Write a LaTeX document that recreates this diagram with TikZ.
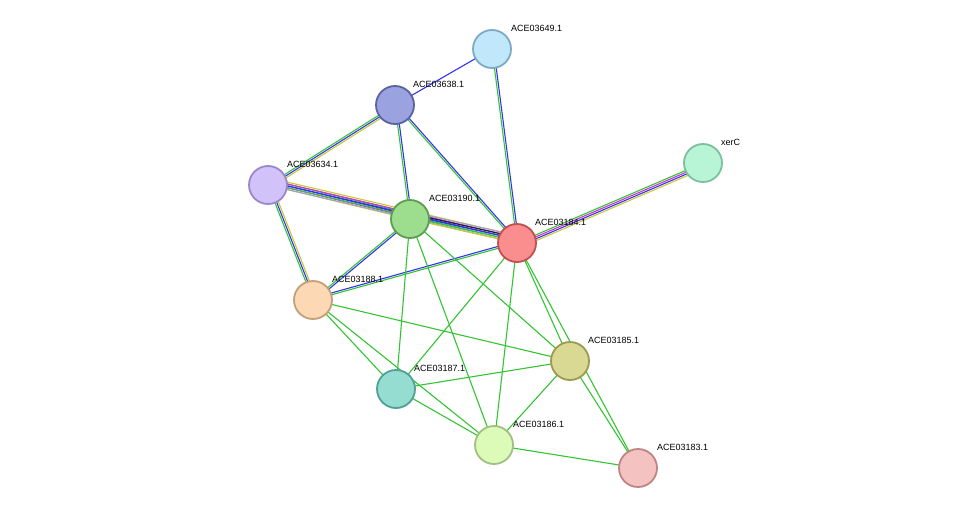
\documentclass[tikz,border=0pt]{standalone}
\usepackage{fontspec}
\setmainfont{Liberation Sans}
\usetikzlibrary{calc}
\definecolor{eg}{HTML}{33C433}
\definecolor{eb}{HTML}{3333EE}
\definecolor{ey}{HTML}{C8C832}
\definecolor{em}{HTML}{CC33CC}
\definecolor{ek}{HTML}{222222}
\definecolor{ea}{HTML}{A0A0D8}
\tikzset{
 prot/.style={circle,minimum size=38pt,inner sep=0pt,line width=1.8pt},
 lab/.style={anchor=west,font=\fontsize{9}{10}\selectfont,inner sep=0pt},
 edge/.style={line width=1.1pt}
}
\newcommand{\medge}[3]{%
 \foreach \c [count=\i] in {#3}{%
  \pgfmathsetmacro{\o}{(\i-1)*1.8}%
  \draw[edge,\c] ($(#1)!\o pt!90:(#2)$) -- ($(#2)!\o pt!-90:(#1)$);}}
\begin{document}
\begin{tikzpicture}[x=1pt,y=-1pt]
\useasboundingbox (0,0) rectangle (976,514);
\coordinate (p49) at (492,49);
\coordinate (p38) at (395,105);
\coordinate (pxc) at (703,163);
\coordinate (p34) at (268,185);
\coordinate (p90) at (410,219);
\coordinate (p84) at (517,243);
\coordinate (p88) at (313,300);
\coordinate (p85) at (570,361);
\coordinate (p87) at (396,389);
\coordinate (p86) at (494,445);
\coordinate (p83) at (638,468);
\medge{p49}{p38}{eb}
\medge{p49}{p84}{eg,eb}
\medge{p38}{p34}{eg,eb,ey}
\medge{p38}{p90}{eg,eb}
\medge{p38}{p84}{eg,eb}
\medge{p34}{p90}{ey,em,eb,eg}
\medge{p34}{p84}{ea,eg,eb,em,ey}
\medge{p34}{p88}{eg,eb,ey}
\medge{p90}{p84}{ey,eg,eb,ek,ea}
\medge{p90}{p88}{eg,eb}
\medge{p88}{p84}{eg,eb}
\medge{pxc}{p84}{eg,em,eb,ey}
\medge{p90}{p87}{eg}
\medge{p90}{p86}{eg}
\medge{p90}{p85}{eg}
\medge{p84}{p87}{eg}
\medge{p84}{p86}{eg}
\medge{p84}{p85}{eg}
\medge{p84}{p83}{eg}
\medge{p88}{p85}{eg}
\medge{p88}{p87}{eg}
\medge{p88}{p86}{eg}
\medge{p87}{p85}{eg}
\medge{p85}{p86}{eg}
\medge{p85}{p83}{eg}
\medge{p86}{p83}{eg}
\medge{p87}{p86}{eg}
\node[prot,fill={rgb,255:red,192;green,232;blue,250},draw={rgb,255:red,127;green,169;blue,197}] (n49) at (p49) {};
\node[prot,fill={rgb,255:red,154;green,163;blue,224},draw={rgb,255:red,90;green,98;blue,160}] (n38) at (p38) {};
\node[prot,fill={rgb,255:red,184;green,245;blue,214},draw={rgb,255:red,124;green,192;blue,155}] (nxc) at (pxc) {};
\node[prot,fill={rgb,255:red,210;green,194;blue,250},draw={rgb,255:red,154;green,136;blue,200}] (n34) at (p34) {};
\node[prot,fill={rgb,255:red,157;green,221;blue,142},draw={rgb,255:red,92;green,158;blue,80}] (n90) at (p90) {};
\node[prot,fill={rgb,255:red,250;green,142;blue,142},draw={rgb,255:red,192;green,80;blue,80}] (n84) at (p84) {};
\node[prot,fill={rgb,255:red,252;green,216;blue,180},draw={rgb,255:red,196;green,160;blue,122}] (n88) at (p88) {};
\node[prot,fill={rgb,255:red,218;green,217;blue,148},draw={rgb,255:red,154;green,154;blue,80}] (n85) at (p85) {};
\node[prot,fill={rgb,255:red,148;green,221;blue,208},draw={rgb,255:red,80;green,160;blue,150}] (n87) at (p87) {};
\node[prot,fill={rgb,255:red,220;green,250;blue,184},draw={rgb,255:red,160;green,192;blue,128}] (n86) at (p86) {};
\node[prot,fill={rgb,255:red,245;green,194;blue,194},draw={rgb,255:red,192;green,132;blue,132}] (n83) at (p83) {};
\node[lab] (l49) at (511,28) {ACE03649.1};
\node[lab] (l38) at (413,84) {ACE03638.1};
\node[lab] (lxc) at (721,142) {xerC};
\node[lab] (l34) at (287,164) {ACE03634.1};
\node[lab] (l90) at (429,198) {ACE03190.1};
\node[lab] (l84) at (535,222) {ACE03184.1};
\node[lab] (l88) at (332,279) {ACE03188.1};
\node[lab] (l85) at (588,340) {ACE03185.1};
\node[lab] (l87) at (414,368) {ACE03187.1};
\node[lab] (l86) at (513,424) {ACE03186.1};
\node[lab] (l83) at (657,447) {ACE03183.1};
\end{tikzpicture}
\end{document}
